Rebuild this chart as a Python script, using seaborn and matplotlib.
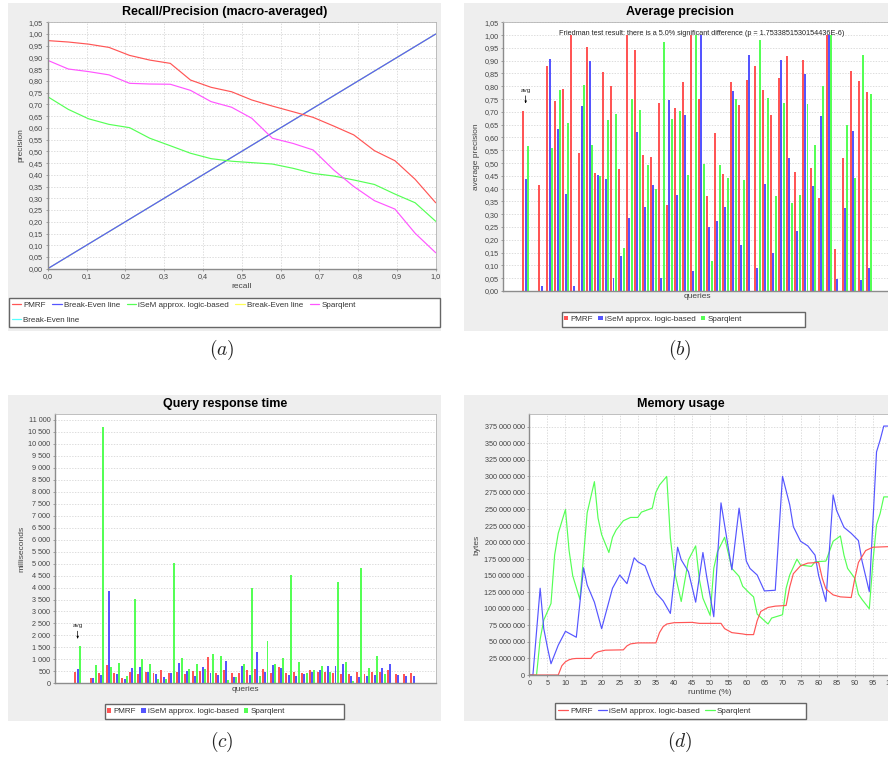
import matplotlib
matplotlib.use("Agg")
import matplotlib.pyplot as plt
from matplotlib.patches import Rectangle, Patch
from matplotlib.lines import Line2D
from matplotlib.ticker import FuncFormatter
import pandas as pd
import seaborn as sns

# ---------------- (a) Recall / Precision ----------------
recall = [0.0, 0.053, 0.105, 0.158, 0.211, 0.263, 0.316, 0.368, 0.421, 0.474,
          0.526, 0.579, 0.632, 0.684, 0.737, 0.789, 0.842, 0.895, 0.947, 1.0]
prec_pmrf = [0.972, 0.966, 0.957, 0.943, 0.909, 0.889, 0.875, 0.804, 0.773, 0.754,
             0.719, 0.693, 0.669, 0.645, 0.608, 0.570, 0.503, 0.460, 0.381, 0.281]
prec_isem = [0.733, 0.679, 0.639, 0.615, 0.601, 0.556, 0.524, 0.492, 0.469, 0.458,
             0.452, 0.446, 0.428, 0.406, 0.395, 0.378, 0.359, 0.318, 0.281, 0.202]
prec_sparq = [0.888, 0.851, 0.840, 0.826, 0.790, 0.787, 0.786, 0.760, 0.712, 0.688,
              0.641, 0.556, 0.534, 0.506, 0.421, 0.350, 0.290, 0.254, 0.151, 0.068]
break_even = [0.0, 1.0]

# ---------------- (b) Average precision ----------------
systems = ["PMRF", "iSeM approx. logic-based", "Sparqlent"]
query_labels = ["avg"] + [f"q{i}" for i in range(1, 43)]
category_order = ["avg", " "] + [f"q{i}" for i in range(1, 43)]
ap_pmrf = [0.705, 0.415, 0.88, 0.743, 0.79, 1.0, 0.54, 0.953, 0.46, 0.855, 0.80,
           0.477, 1.0, 0.94, 0.53, 0.525, 0.735, 0.336, 0.717, 0.817, 1.0, 0.749,
           0.371, 0.619, 0.458, 0.817, 0.726, 0.826, 0.878, 0.785, 0.687, 0.833,
           0.917, 0.464, 0.902, 0.479, 0.364, 1.0, 0.164, 0.518, 0.86, 0.821, 0.778]
ap_isem = [0.437, 0.02, 0.905, 0.632, 0.378, 0.02, 0.722, 0.897, 0.453, 0.437, 0.052,
           0.138, 0.285, 0.62, 0.328, 0.415, 0.05, 0.746, 0.377, 0.687, 0.078, 1.0,
           0.251, 0.273, 0.328, 0.781, 0.18, 0.924, 0.088, 0.42, 0.148, 0.902,
           0.518, 0.236, 0.847, 0.41, 0.683, 1.0, 0.048, 0.325, 0.627, 0.043, 0.091]
ap_sparq = [0.565, 0.0, 0.558, 0.785, 0.657, 0.0, 0.805, 0.57, 0.448, 0.667, 0.693,
            0.167, 0.75, 0.707, 0.492, 0.40, 0.973, 0.674, 0.703, 0.453, 1.0, 0.498,
            0.117, 0.494, 0.44, 0.752, 0.435, 0.0, 0.98, 0.755, 0.371, 0.733,
            0.345, 0.375, 0.729, 0.572, 0.801, 1.0, 0.0, 0.648, 0.44, 0.924, 0.769]
friedman_text = ("Friedman test result: there is a 5.0% significant difference "
                 "(p = 1.7533851530154436E-6)")

# ---------------- (c) Query response time (ms) ----------------
rt_pmrf = [488, 223, 418, 767, 418, 223, 488, 404, 488, 418, 557, 446, 474, 404,
           502, 516, 1115, 418, 544, 432, 446, 557, 585, 585, 418, 697, 418, 488,
           418, 557, 488, 488, 418, 404, 376, 460, 376, 474, 488, 557, 376, 376, 432]
rt_isem = [585, 223, 349, 3861, 376, 195, 641, 683, 488, 390, 279, 446, 836, 502,
           307, 669, 418, 349, 934, 279, 711, 335, 1296, 474, 753, 655, 363, 307,
           390, 460, 557, 739, 739, 794, 307, 251, 320, 335, 641, 808, 335, 307, 307]
rt_sparq = [1561, 753, 10700, 683, 864, 320, 3527, 1004, 822, 167, 167, 5032, 1073,
            613, 794, 585, 1213, 1129, 139, 279, 794, 3987, 307, 1770, 794, 1045,
            4517, 906, 418, 557, 711, 474, 4224, 892, 98, 4810, 655, 1129, 376,
            0, 0, 0, 0]

# ---------------- (d) Memory usage (million bytes vs runtime %) ----------------
mem_x_pmrf = [0, 8, 9, 10, 11, 12, 13, 17, 18, 19, 21, 26, 27, 28, 30, 35, 36, 37,
              38, 40, 45, 47, 53, 54, 56, 59, 60, 62, 63, 64, 66, 68, 71, 72, 73,
              75, 77, 80, 81, 82, 84, 86, 89, 90, 91, 93, 95, 100]
mem_pmrf = [0, 0, 14, 20, 23, 24.5, 25, 25, 32, 35, 37.5, 38, 44, 47, 48.5, 48.5,
            64, 73, 77, 79, 79.5, 78, 78, 70, 64, 62, 61, 61, 82, 96, 102, 104, 105,
            133, 153, 165, 169, 170, 146, 130, 121, 118, 117, 146, 170, 188, 193, 194]
mem_x_isem = [0, 1, 3, 4, 5, 6, 8, 10, 13, 15, 16, 18, 20, 23, 25, 27, 29, 30, 32,
              34, 35, 37, 39, 41, 42, 44, 46, 48, 49, 51, 53, 56, 58, 60, 61, 63,
              65, 68, 70, 72, 73, 75, 77, 79, 80, 82, 84, 85, 87, 89, 91, 92, 94,
              96, 97, 98, 100]
mem_isem = [0, 0, 131, 70, 42, 17, 45, 66, 57, 162, 136, 110, 70, 131, 151, 138,
            177, 171, 165, 136, 124, 112, 93, 193, 174, 156, 110, 185, 150, 88, 260,
            159, 252, 172, 161, 151, 127, 128, 300, 257, 224, 202, 195, 181, 150,
            111, 272, 248, 223, 214, 203, 172, 126, 337, 355, 376, 376]
mem_x_sparq = [0, 2, 3, 4, 6, 7, 8, 10, 11, 12, 14, 16, 18, 19, 20, 22, 23, 24, 26,
               28, 30, 31, 34, 35, 36, 38, 39, 40, 42, 44, 46, 47, 48, 50, 51, 52,
               54, 56, 58, 59, 61, 62, 63, 66, 67, 70, 71, 72, 74, 75, 78, 79, 82,
               84, 86, 87, 88, 90, 91, 92, 94, 95, 96, 97, 98, 100]
mem_sparq = [0, 0, 54, 83, 108, 181, 214, 250, 188, 150, 114, 245, 292, 237, 212,
             185, 208, 219, 233, 238, 238, 246, 252, 276, 287, 300, 207, 160, 111,
             174, 195, 145, 116, 90, 161, 186, 208, 161, 149, 134, 123, 118, 92, 77,
             86, 91, 131, 151, 175, 166, 164, 171, 172, 202, 210, 181, 161, 146, 122,
             114, 100, 171, 227, 244, 269, 269]

RED, BLUE, GREEN = "#FF5555", "#5555FF", "#55FF55"
YELLOW, MAGENTA, CYAN = "#FFFF55", "#FF55FF", "#55FFFF"

sns.set_theme(style="white")
plt.rcParams["font.family"] = ["Liberation Sans", "DejaVu Sans"]

W, H = 888, 760
fig = plt.figure(figsize=(W / 100, H / 100), dpi=100)
fig.patch.set_facecolor("white")


def fx(x):
    return x / W


def fy(y):
    return 1 - y / H


def rect(x0, y0, x1, y1, **kw):
    fig.add_artist(Rectangle((fx(x0), fy(y1)), (x1 - x0) / W, (y1 - y0) / H,
                             transform=fig.transFigure, **kw))


def make_ax(x0, y0, x1, y1, xgrid=True):
    ax = fig.add_axes([fx(x0), fy(y1), (x1 - x0) / W, (y1 - y0) / H])
    ax.set_facecolor("white")
    for s in ["left", "bottom"]:
        ax.spines[s].set_color("#8c8c8c")
        ax.spines[s].set_linewidth(1.0)
    for s in ["top", "right"]:
        ax.spines[s].set_color("#b4b4b4")
        ax.spines[s].set_linewidth(0.6)
    ax.tick_params(axis="both", which="both", direction="out", length=1.6,
                   width=0.5, color="#808080", labelsize=5.2,
                   labelcolor="#444444", pad=1.8, left=True, bottom=True)
    ax.grid(True, axis="y", color="#cfcfcf", linestyle=(0, (2, 2)), linewidth=0.5)
    ax.grid(xgrid, axis="x", color="#cfcfcf", linestyle=(0, (2, 2)), linewidth=0.5)
    ax.set_axisbelow(True)
    return ax


comma2 = FuncFormatter(lambda v, p: f"{v:.2f}".replace(".", ","))
comma1 = FuncFormatter(lambda v, p: f"{v:.1f}".replace(".", ","))
thousands = FuncFormatter(lambda v, p: f"{int(round(v)):,}".replace(",", " "))
mem_fmt = FuncFormatter(lambda v, p: f"{int(round(v * 1e6)):,}".replace(",", " "))

LBL = dict(fontsize=6, color="#444444")
TITLE = dict(fontsize=9, fontweight="bold", color="black", ha="center", va="center")

# panel backgrounds
rect(8, 3, 441, 331, facecolor="#EEEEEE", edgecolor="none", zorder=-5)
rect(464, 3, 900, 331, facecolor="#EEEEEE", edgecolor="none", zorder=-5)
rect(8, 395, 441, 721, facecolor="#EEEEEE", edgecolor="none", zorder=-5)
rect(464, 395, 900, 721, facecolor="#EEEEEE", edgecolor="none", zorder=-5)

# ======================= (a) =======================
ax_a = make_ax(47.7, 22.3, 435.7, 268.7)
line_kw = dict(estimator=None, sort=False, legend=False, linewidth=0.85)
sns.lineplot(x=break_even, y=break_even, ax=ax_a, color=CYAN, **line_kw)
sns.lineplot(x=break_even, y=break_even, ax=ax_a, color=YELLOW, **line_kw)
sns.lineplot(x=break_even, y=break_even, ax=ax_a, color=BLUE, **line_kw)
sns.lineplot(x=recall, y=prec_isem, ax=ax_a, color=GREEN, **line_kw)
sns.lineplot(x=recall, y=prec_sparq, ax=ax_a, color=MAGENTA, **line_kw)
sns.lineplot(x=recall, y=prec_pmrf, ax=ax_a, color=RED, **line_kw)
ax_a.set_xlim(0, 1)
ax_a.set_ylim(0, 1.05)
ax_a.set_xticks([i / 10 for i in range(11)])
ax_a.set_yticks([i * 0.05 for i in range(22)])
ax_a.xaxis.set_major_formatter(comma1)
ax_a.yaxis.set_major_formatter(comma2)
ax_a.set_xlabel("recall", **LBL)
ax_a.set_ylabel("precision", **LBL)
ax_a.xaxis.set_label_coords(0.5, -0.057)
ax_a.yaxis.set_label_coords(-0.061, 0.5)
fig.text(fx(224.5), fy(12), "Recall/Precision (macro-averaged)", **TITLE)

rect(9, 297.7, 440, 326.7, facecolor="white", edgecolor="#666666", linewidth=1.0, zorder=-1)
leg_kw = dict(loc="center left", frameon=False, fontsize=5.8, handlelength=1.2,
              handletextpad=0.25, columnspacing=0.8, borderpad=0, borderaxespad=0,
              labelcolor="#333333")
row1 = [Line2D([], [], color=c, lw=0.9) for c in [RED, BLUE, GREEN, YELLOW, MAGENTA]]
fig.legend(row1, ["PMRF", "Break-Even line", "iSeM approx. logic-based",
                  "Break-Even line", "Sparqlent"], ncol=5,
           bbox_to_anchor=(fx(11.5), fy(305.3)), **leg_kw)
fig.legend([Line2D([], [], color=CYAN, lw=0.9)], ["Break-Even line"], ncol=1,
           bbox_to_anchor=(fx(11.5), fy(319.7)), **leg_kw)
fig.text(fx(222), fy(350), r"$(a)$", fontsize=14, ha="center", va="center",
         math_fontfamily="cm")


def bar_frame(labels, series):
    rows = []
    for name, vals in zip(systems, series):
        for q, v in zip(labels, vals):
            rows.append({"query": q, "system": name, "value": v})
    return pd.DataFrame(rows)


bar_kw = dict(x="query", y="value", hue="system", order=category_order,
              hue_order=systems, palette=[RED, BLUE, GREEN], width=0.88, gap=0.15,
              saturation=1, errorbar=None, legend=False, linewidth=0,
              edgecolor="none")
arrow_kw = dict(arrowstyle="-|>,head_length=0.3,head_width=0.12", color="black",
                lw=0.5, shrinkA=0, shrinkB=5)

# ======================= (b) =======================
ax_b = make_ax(503.3, 22.3, 891, 291, xgrid=False)
df_b = bar_frame(query_labels, [ap_pmrf, ap_isem, ap_sparq])
sns.barplot(data=df_b, ax=ax_b, **bar_kw)
ax_b.set_xlim(-2.8, 45.75)
ax_b.set_ylim(0, 1.05)
ax_b.set_xticks([])
ax_b.set_yticks([i * 0.05 for i in range(22)])
ax_b.yaxis.set_major_formatter(comma2)
ax_b.set_xlabel("queries", **LBL)
ax_b.set_ylabel("average precision", **LBL)
ax_b.xaxis.set_label_coords(0.5, -0.008)
ax_b.yaxis.set_label_coords(-0.0593, 0.5)
avg_b = max(ap_pmrf[0], ap_isem[0], ap_sparq[0])
ax_b.annotate("avg", xy=(0, avg_b), xytext=(0, 13), textcoords="offset points",
              ha="center", va="bottom", fontsize=4.6, arrowprops=arrow_kw)
fig.text(fx(701.5), fy(33.3), friedman_text, fontsize=5.2, ha="center",
         va="center", color="#222222")
fig.text(fx(680), fy(12), "Average precision", **TITLE)

bar_leg_kw = dict(loc="center left", frameon=False, fontsize=5.8, handlelength=0.5,
                  handleheight=0.5, handletextpad=0.3, columnspacing=0.65,
                  borderpad=0, borderaxespad=0, labelcolor="#333333", ncol=3)
patches = [Patch(facecolor=c, edgecolor="none") for c in [RED, BLUE, GREEN]]
rect(561.7, 312, 805, 326.7, facecolor="white", edgecolor="#666666", linewidth=1.0, zorder=-1)
fig.legend(patches, systems, bbox_to_anchor=(fx(564.3), fy(319.4)), **bar_leg_kw)
fig.text(fx(680), fy(350), r"$(b)$", fontsize=14, ha="center", va="center",
         math_fontfamily="cm")

# ======================= (c) =======================
ax_c = make_ax(55, 414, 436, 683.3, xgrid=False)
df_c = bar_frame(query_labels, [rt_pmrf, rt_isem, rt_sparq])
sns.barplot(data=df_c, ax=ax_c, **bar_kw)
ax_c.set_xlim(-2.9, 45.86)
ax_c.set_ylim(0, 11250)
ax_c.set_xticks([])
ax_c.set_yticks(list(range(0, 11001, 500)))
ax_c.yaxis.set_major_formatter(thousands)
ax_c.set_xlabel("queries", **LBL)
ax_c.set_ylabel("milliseconds", **LBL)
ax_c.xaxis.set_label_coords(0.5, -0.01)
ax_c.yaxis.set_label_coords(-0.077, 0.5)
avg_c = max(rt_pmrf[0], rt_isem[0], rt_sparq[0])
ax_c.annotate("avg", xy=(0, avg_c), xytext=(0, 13), textcoords="offset points",
              ha="center", va="bottom", fontsize=4.6, arrowprops=arrow_kw)
fig.text(fx(224.7), fy(404), "Query response time", **TITLE)
rect(105, 704, 344, 719.3, facecolor="white", edgecolor="#666666", linewidth=1.0, zorder=-1)
fig.legend(patches, systems, bbox_to_anchor=(fx(107.3), fy(711.7)), **bar_leg_kw)
fig.text(fx(222), fy(742), r"$(c)$", fontsize=14, ha="center", va="center",
         math_fontfamily="cm")

# ======================= (d) =======================
ax_d = make_ax(529.3, 414.3, 891, 675)
sns.lineplot(x=mem_x_sparq, y=mem_sparq, ax=ax_d, color=GREEN, **line_kw)
sns.lineplot(x=mem_x_isem, y=mem_isem, ax=ax_d, color=BLUE, **line_kw)
sns.lineplot(x=mem_x_pmrf, y=mem_pmrf, ax=ax_d, color=RED, **line_kw)
ax_d.set_xlim(0, 100)
ax_d.set_ylim(0, 393.75)
ax_d.set_xticks(list(range(0, 101, 5)))
ax_d.set_yticks(list(range(0, 376, 25)))
ax_d.yaxis.set_major_formatter(mem_fmt)
ax_d.set_xlabel("runtime (%)", **LBL)
ax_d.set_ylabel("bytes", **LBL)
ax_d.xaxis.set_label_coords(0.5, -0.054)
ax_d.yaxis.set_label_coords(-0.1355, 0.5)
fig.text(fx(680.5), fy(404), "Memory usage", **TITLE)
rect(555, 703.3, 806, 719.3, facecolor="white", edgecolor="#666666", linewidth=1.0, zorder=-1)
line_handles = [Line2D([], [], color=c, lw=0.9) for c in [RED, BLUE, GREEN]]
fig.legend(line_handles, systems, ncol=3, bbox_to_anchor=(fx(558.3), fy(711.3)),
           **dict(leg_kw, handletextpad=0.3, columnspacing=0.65, handlelength=1.15))
fig.text(fx(680), fy(742), r"$(d)$", fontsize=14, ha="center", va="center",
         math_fontfamily="cm")

fig.savefig("out.png", dpi=100)
